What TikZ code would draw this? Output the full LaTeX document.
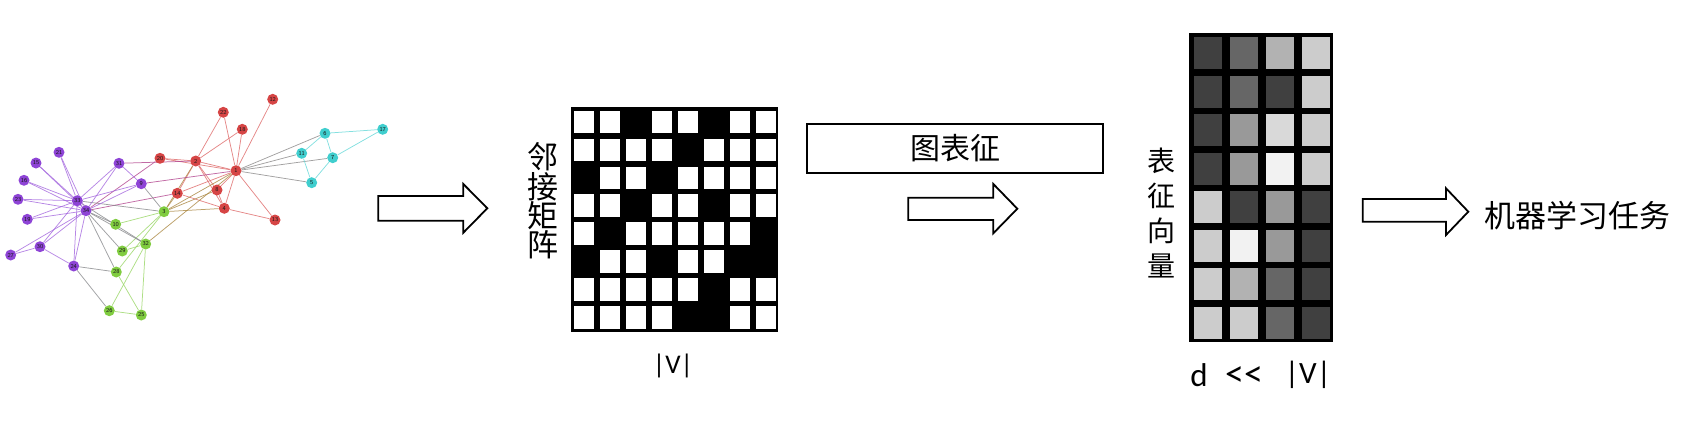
\documentclass[tikz,border=0pt]{standalone}
\usepackage{fontspec}
\newfontfamily\cjk{Noto Sans CJK SC}
\newfontfamily\lat{Carlito}
\usetikzlibrary{backgrounds}
\definecolor{cR}{RGB}{214,69,69}
\definecolor{cP}{RGB}{142,68,214}
\definecolor{cG}{RGB}{128,204,64}
\definecolor{cC}{RGB}{64,206,206}
\begin{document}
\begin{tikzpicture}[x=1pt,y=-1pt,
  gn/.style={circle, inner sep=0pt, minimum size=11pt, font=\fontsize{6}{6}\selectfont\sffamily, text=black!90},
  ge/.style={line width=0.75pt, draw opacity=0.8},
  barrow/.style={draw=black, fill=white, line width=1.8pt, line join=miter},
  cjklabel/.style={font=\cjk\fontsize{#1}{#1}\selectfont},
  latlabel/.style={font=\lat\fontsize{#1}{#1}\selectfont}
]
\useasboundingbox (0,0) rectangle (1688,426);

% ---------- graph nodes ----------
\node[gn, fill=cR] (n1)  at (236,170.7) {1};
\node[gn, fill=cR] (n2)  at (195.7,161) {2};
\node[gn, fill=cG] (n3)  at (164,211.7) {3};
\node[gn, fill=cR] (n4)  at (224.3,208.3) {4};
\node[gn, fill=cC] (n5)  at (311.7,182.7) {5};
\node[gn, fill=cC] (n6)  at (325,133.3) {6};
\node[gn, fill=cC] (n7)  at (332.7,157.7) {7};
\node[gn, fill=cR] (n8)  at (217,190) {8};
\node[gn, fill=cP] (n9)  at (141.3,183.7) {9};
\node[gn, fill=cG] (n10) at (115.7,224.3) {10};
\node[gn, fill=cC] (n11) at (301.7,153.3) {11};
\node[gn, fill=cR] (n12) at (272.7,99.3) {12};
\node[gn, fill=cR] (n13) at (275,220) {13};
\node[gn, fill=cR] (n14) at (177.3,193.3) {14};
\node[gn, fill=cP] (n15) at (36,163) {15};
\node[gn, fill=cP] (n16) at (24,180.3) {16};
\node[gn, fill=cC] (n17) at (382.7,129.3) {17};
\node[gn, fill=cR] (n18) at (242.3,129.3) {18};
\node[gn, fill=cP] (n19) at (27.3,219.3) {19};
\node[gn, fill=cR] (n20) at (160,158.3) {20};
\node[gn, fill=cP] (n21) at (59,152.3) {21};
\node[gn, fill=cR] (n22) at (223.3,112.3) {22};
\node[gn, fill=cP] (n23) at (18,199.3) {23};
\node[gn, fill=cP] (n24) at (73.7,266) {24};
\node[gn, fill=cG] (n25) at (141.3,315) {25};
\node[gn, fill=cG] (n26) at (109.3,310.7) {26};
\node[gn, fill=cP] (n27) at (10.7,255) {27};
\node[gn, fill=cG] (n28) at (116.3,272) {28};
\node[gn, fill=cG] (n29) at (122.3,251) {29};
\node[gn, fill=cP] (n30) at (40,246.7) {30};
\node[gn, fill=cP] (n31) at (119,163.3) {31};
\node[gn, fill=cG] (n32) at (145.7,244) {32};
\node[gn, fill=cP] (n33) at (77.3,200.7) {33};
\node[gn, fill=cP] (n34) at (86,210.7) {34};

% ---------- graph edges ----------
\begin{scope}[on background layer]
\foreach \a/\b in {1/2,1/4,1/8,1/12,1/13,1/14,1/18,1/20,1/22,2/4,2/8,2/14,2/18,2/20,2/22,4/8,4/13,4/14}
  \draw[ge, draw=cR!80!white] (n\a) -- (n\b);
\foreach \a/\b in {1/5,1/6,1/7,1/11}
  \draw[ge, draw=cR!50!cC] (n\a) -- (n\b);
\foreach \a/\b in {1/3,1/32,2/3,3/4,3/8,3/14}
  \draw[ge, draw=cR!50!cG] (n\a) -- (n\b);
\foreach \a/\b in {1/9,2/31,14/34,20/34}
  \draw[ge, draw=cR!50!cP] (n\a) -- (n\b);
\foreach \a/\b in {5/7,5/11,6/7,6/11,6/17,7/17}
  \draw[ge, draw=cC!80!white] (n\a) -- (n\b);
\foreach \a/\b in {3/10,3/28,3/29,25/26,25/28,25/32,26/32,29/32}
  \draw[ge, draw=cG!80!white] (n\a) -- (n\b);
\foreach \a/\b in {3/9,3/33,10/34,24/26,24/28,28/34,29/34,32/33,32/34}
  \draw[ge, draw=cG!50!cP] (n\a) -- (n\b);
\foreach \a/\b in {9/31,9/33,9/34,15/33,15/34,16/33,16/34,19/33,19/34,21/33,21/34,23/33,23/34,24/30,24/33,24/34,27/30,27/34,30/33,30/34,31/33,31/34,33/34}
  \draw[ge, draw=cP!80!white] (n\a) -- (n\b);
\end{scope}

% ---------- block arrows ----------
\draw[barrow] (378.3,196) -- (463.3,196) -- (463.3,184) -- (487.3,208.3) -- (463.3,232.7) -- (463.3,220.7) -- (378.3,220.7) -- cycle;
\draw[barrow] (908.3,197.7) -- (993.3,197.7) -- (993.3,184) -- (1017.3,208.7) -- (993.3,233.3) -- (993.3,220) -- (908.3,220) -- cycle;
\draw[barrow] (1362.7,199) -- (1446,199) -- (1446,188.3) -- (1468.3,211.7) -- (1446,235) -- (1446,221.7) -- (1362.7,221.7) -- cycle;

% ---------- adjacency matrix ----------
\fill[black] (571,107.3) rectangle (778.3,332.3);
\foreach \row [count=\r from 0] in {{1,1,0,1,1,0,1,1},{1,1,1,1,0,1,1,1},{0,1,1,0,1,1,1,1},{1,1,0,1,1,0,1,1},{1,0,1,1,1,1,1,0},{0,1,1,0,1,1,0,0},{1,1,1,1,1,0,1,1},{1,1,1,1,0,0,1,1}}{
  \foreach \v [count=\c from 0] in \row {
    \ifnum\v=1
      \fill[white] ({574+26*\c},{110.7+27.9*\r}) rectangle ++(20,22.7);
    \fi
  }
}
\node[align=center, font=\cjk\fontsize{31}{28}\selectfont] (adj) at (543,201) {邻\\接\\矩\\阵};
\node[latlabel=27] (v1) at (673,366) {|V|};

% ---------- box ----------
\node[draw, line width=1.8pt, minimum width=296pt, minimum height=48.7pt, inner sep=0pt, cjklabel=30] (gr) at (955.3,148.3) {图表征};

% ---------- embedding matrix ----------
\fill[black] (1189,33.3) rectangle (1333,342);
\foreach \row [count=\r from 0] in {{25,40,70,80},{25,40,25,80},{25,60,85,80},{25,60,95,80},{80,25,60,25},{80,95,60,25},{80,70,40,25},{80,80,40,25}}{
  \foreach \v [count=\c from 0] in \row {
    \fill[white!\v!black] ({1194.3+36*\c},{37.3+38.5*\r}) rectangle ++(27.5,31.8);
  }
}
\node[align=center, font=\cjk\fontsize{28}{35}\selectfont] (emb) at (1161,213) {表\\征\\向\\量};
\node[latlabel=33] (d) at (1199,375) {d};
\node[latlabel=38] (ll) at (1244,377) {<<};
\node[latlabel=31] (v2) at (1308,375) {|V|};

% ---------- task ----------
\node[cjklabel=31] (task) at (1577,215.5) {机器学习任务};
\end{tikzpicture}
\end{document}
